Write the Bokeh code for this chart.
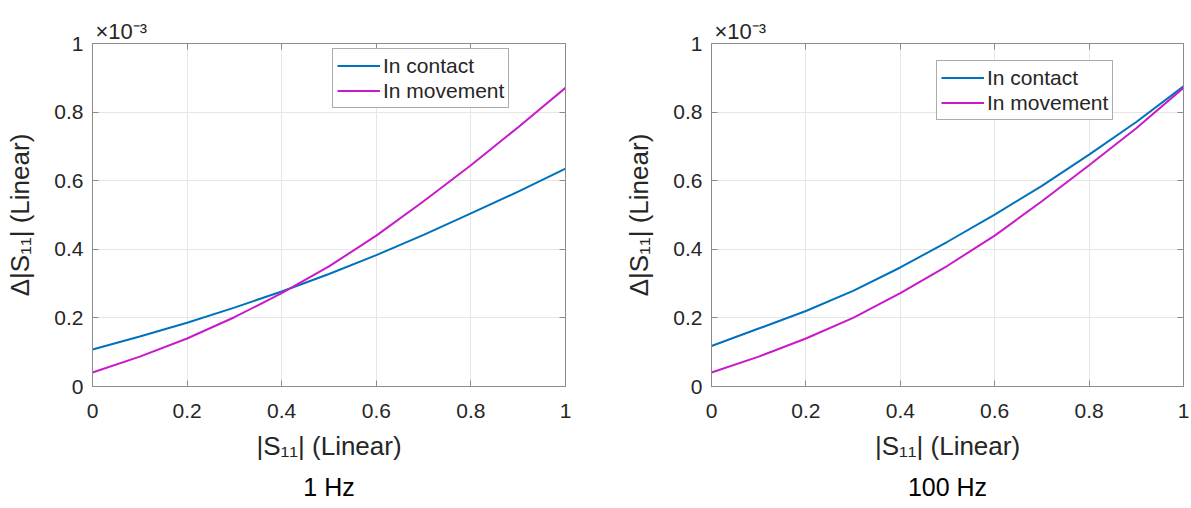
from bokeh.plotting import figure
from bokeh.layouts import row
from bokeh.models import LinearAxis, FixedTicker, CustomJSTickFormatter, Title
from bokeh.embed import file_html
from bokeh.resources import INLINE

# ---- data (values in units of 1e-3) ----
s11_linear = [0.0, 0.1, 0.2, 0.3, 0.4, 0.5, 0.6, 0.7, 0.8, 0.9, 1.0]
contact_1hz = [0.108, 0.146, 0.186, 0.230, 0.277, 0.328, 0.383, 0.442, 0.505, 0.568, 0.635]
movement_1hz = [0.041, 0.087, 0.140, 0.202, 0.272, 0.350, 0.440, 0.540, 0.645, 0.756, 0.871]
contact_100hz = [0.118, 0.169, 0.220, 0.279, 0.347, 0.422, 0.501, 0.585, 0.676, 0.771, 0.875]
movement_100hz = [0.041, 0.087, 0.140, 0.200, 0.272, 0.352, 0.440, 0.540, 0.645, 0.753, 0.871]
tick_values = [0.0, 0.2, 0.4, 0.6, 0.8, 1.0]
panel_titles = ["1 Hz", "100 Hz"]
legend_labels = ["In contact", "In movement"]
x_label = "|S₁₁| (Linear)"
y_label = "Δ|S₁₁| (Linear)"
exponent_label = "×10⁻³"

FONT = "Liberation Sans"
TEXT = "#262626"
AXIS = "#8c8c8c"
GRID = "#e6e6e6"
BLUE = "#0072BD"
MAG = "#c91ac9"

fmt_code = "return Number(tick.toFixed(1)).toString();"


def style_axis(ax, show):
    ax.ticker = FixedTicker(ticks=tick_values)
    if show:
        ax.formatter = CustomJSTickFormatter(code=fmt_code)
    else:
        ax.formatter = CustomJSTickFormatter(code="return '';")
        ax.major_label_standoff = 0
    ax.major_tick_in = 6
    ax.major_tick_out = 0
    ax.minor_tick_line_color = None
    ax.axis_line_color = AXIS
    ax.major_tick_line_color = AXIS
    ax.major_label_text_font = FONT
    ax.major_label_text_font_size = "21px"
    ax.major_label_text_color = TEXT
    ax.axis_label_text_font = FONT
    ax.axis_label_text_font_size = "26px"
    ax.axis_label_text_font_style = "normal"
    ax.axis_label_text_color = TEXT


def make_panel(contact, movement, title, bl, br, width, legend_loc):
    p = figure(width=width, height=508, x_range=(0, 1), y_range=(0, 1),
               output_backend="svg", toolbar_location=None,
               min_border_left=bl, min_border_right=br, min_border_top=43, min_border_bottom=122)
    p.outline_line_color = AXIS
    p.background_fill_color = "white"
    p.border_fill_color = "white"

    xa = p.xaxis[0]
    ya = p.yaxis[0]
    style_axis(xa, True)
    style_axis(ya, True)
    xa.major_label_standoff = 17
    ya.major_label_standoff = 9
    xa.axis_label = x_label
    xa.axis_label_standoff = 10
    ya.axis_label = y_label
    ya.axis_label_standoff = 16

    top = LinearAxis()
    style_axis(top, False)
    p.add_layout(top, "above")
    right = LinearAxis()
    style_axis(right, False)
    p.add_layout(right, "right")

    p.xgrid.ticker = FixedTicker(ticks=tick_values)
    p.ygrid.ticker = FixedTicker(ticks=tick_values)
    p.grid.grid_line_color = GRID
    p.grid.grid_line_width = 1

    p.line(s11_linear, contact, line_color=BLUE, line_width=2, legend_label=legend_labels[0])
    p.line(s11_linear, movement, line_color=MAG, line_width=2, legend_label=legend_labels[1])

    lg = p.legend[0]
    lg.location = legend_loc
    lg.margin = 0
    lg.padding = 4
    lg.spacing = 0
    lg.glyph_width = 43
    lg.glyph_height = 25
    lg.label_height = 25
    lg.label_standoff = 3
    lg.label_text_font = FONT
    lg.label_text_font_size = "21px"
    lg.label_text_color = TEXT
    lg.border_line_color = "#5a5a5a"
    lg.border_line_width = 1
    lg.background_fill_alpha = 1.0

    exp_title = Title(text=exponent_label, align="left", offset=3, standoff=0,
                      text_font=FONT, text_font_size="22px", text_font_style="normal",
                      text_color=TEXT)
    p.add_layout(exp_title, "above")

    cap = Title(text=title, align="center", offset=-17, standoff=15,
                text_font=FONT, text_font_size="25px", text_font_style="normal",
                text_color="black")
    p.add_layout(cap, "below")
    return p


p1 = make_panel(contact_1hz, movement_1hz, panel_titles[0], 92, 35, 600, (240, 278))
p2 = make_panel(contact_100hz, movement_100hz, panel_titles[1], 111, 8, 591, (225, 266))

layout = row(p1, p2)
open("out.html", "w").write(file_html(layout, INLINE))
